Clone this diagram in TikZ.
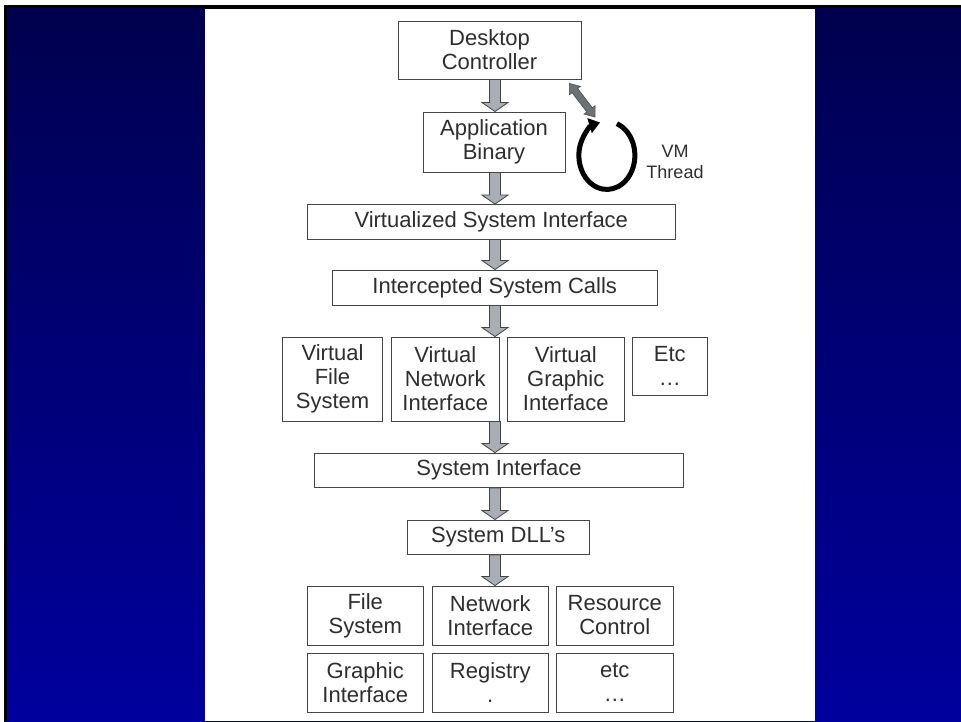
\documentclass[tikz,border=0pt]{standalone}
\usepackage{fontspec}
\setmainfont{Liberation Sans}
\usetikzlibrary{calc,arrows.meta}
\definecolor{navtop}{HTML}{00004E}
\definecolor{navbot}{HTML}{00009E}
\definecolor{txt}{HTML}{2E2E2E}
\definecolor{edge}{HTML}{454545}
\definecolor{arrfill}{HTML}{A9AEB5}
\definecolor{arrdark}{HTML}{6C7176}
\newcommand\blockarrow[2]{%
  \path[blk] let \p1=(#1), \p2=(#2) in
    (\x1-5.5pt,\y1) -- (\x1+5.5pt,\y1) -- (\x1+5.5pt,\y2+9pt) -- (\x1+13pt,\y2+9pt)
    -- (\x1,\y2) -- (\x1-13pt,\y2+9pt) -- (\x1-5.5pt,\y2+9pt) -- cycle;}
\newcommand\dblarrow[2]{%
  \path[dbl] (#1) -- ($(#1)!9pt!(#2)!7pt!90:(#2)$) -- ($(#1)!9pt!(#2)!3.5pt!90:(#2)$)
    -- ($(#2)!9pt!(#1)!3.5pt!90:(#2)$) -- ($(#2)!9pt!(#1)!7pt!90:(#2)$) -- (#2)
    -- ($(#2)!9pt!(#1)!7pt!270:(#2)$) -- ($(#2)!9pt!(#1)!3.5pt!270:(#2)$)
    -- ($(#1)!9pt!(#2)!3.5pt!270:(#2)$) -- ($(#1)!9pt!(#2)!7pt!270:(#2)$) -- cycle;}
\begin{document}
\begin{tikzpicture}[x=1pt,y=-1pt,
  box/.style={draw=edge, line width=0.9pt, fill=white, inner sep=0pt, align=center,
    text=txt, font=\fontsize{22}{24}\selectfont},
  blk/.style={fill=arrfill, draw=edge, line width=0.8pt, line join=miter},
  dbl/.style={fill=arrdark, draw=arrdark!70!black, line width=0.6pt},
  vm/.style={align=center, text=txt, inner sep=0pt, font=\fontsize{18}{21}\selectfont}]
\useasboundingbox (0,0) rectangle (961,721);
\fill[white] (0,0) rectangle (961,721);
\shade[top color=navtop, bottom color=navbot] (4,5) rectangle (961,721);
\fill[black] (4,5) rectangle (961,8);
\fill[black] (4,5) rectangle (7,721);
\fill[white] (205,8) rectangle (815,721);
\fill[black] (205,8) rectangle (815,8.6);

\node[box, minimum width=183pt, minimum height=58pt] (dc) at (489.5,50) {Desktop\\Controller};
\node[box, minimum width=142pt, minimum height=60pt] (ab) at (494,142) {Application\\Binary};
\node[box, minimum width=367.5pt, minimum height=34.5pt] (vsi) at (491.25,221.75) {Virtualized System Interface};
\node[box, minimum width=325.5pt, minimum height=35pt] (isc) at (494.75,287.5) {Intercepted System Calls};
\node[box, minimum width=100pt, minimum height=84pt] (vfs) at (332.5,379) {Virtual\\File\\System};
\node[box, minimum width=108.5pt, minimum height=84pt] (vni) at (445.25,379) {Virtual\\Network\\Interface};
\node[box, minimum width=116.5pt, minimum height=84pt] (vgi) at (565.75,379) {Virtual\\Graphic\\Interface};
\node[box, minimum width=74.5pt, minimum height=58.5pt] (etca) at (669.75,366.25) {Etc\\…};
\node[box, minimum width=369pt, minimum height=34.5pt] (si) at (499,470.25) {System Interface};
\node[box, minimum width=182.5pt, minimum height=34.5pt] (dll) at (498.25,537.25) {System DLL’s};
\node[box, minimum width=115.5pt, minimum height=59pt] (fs) at (365.25,615.5) {File\\System};
\node[box, minimum width=116.5pt, minimum height=59pt] (ni) at (490.25,615.5) {Network\\Interface};
\node[box, minimum width=116.5pt, minimum height=59pt] (rc) at (614.75,615.5) {Resource\\Control};
\node[box, minimum width=115.5pt, minimum height=59pt] (gi) at (365.25,682.5) {Graphic\\Interface};
\node[box, minimum width=116.5pt, minimum height=59pt] (reg) at (490.25,682.5) {Registry\\.};
\node[box, minimum width=116.5pt, minimum height=59pt] (etcb) at (614.75,682.5) {etc\\…};

\node[vm] (vmt) at (675,161.5) {VM\\Thread};

\coordinate (ax) at (495,0);
\blockarrow{dc.south -| ax}{ab.north -| ax}
\blockarrow{ab.south -| ax}{vsi.north -| ax}
\blockarrow{vsi.south -| ax}{isc.north -| ax}
\blockarrow{isc.south -| ax}{vni.north -| ax}
\blockarrow{vni.south -| ax}{si.north -| ax}
\blockarrow{si.south -| ax}{dll.north -| ax}
\blockarrow{dll.south -| ax}{ni.north -| ax}

\coordinate (loop) at (607,155);
\coordinate (vmA) at ($(dc.south east)+(-12,4)$);
\coordinate (vmB) at ($(loop)+(-12,-38)$);
\dblarrow{vmA}{vmB}

\draw[line width=5pt, black, -{Triangle[length=11pt,width=15pt]}]
  ($(loop)+(9.9,-31.3)$) arc[start angle=-69, end angle=256, x radius=28, y radius=34];
\end{tikzpicture}
\end{document}
